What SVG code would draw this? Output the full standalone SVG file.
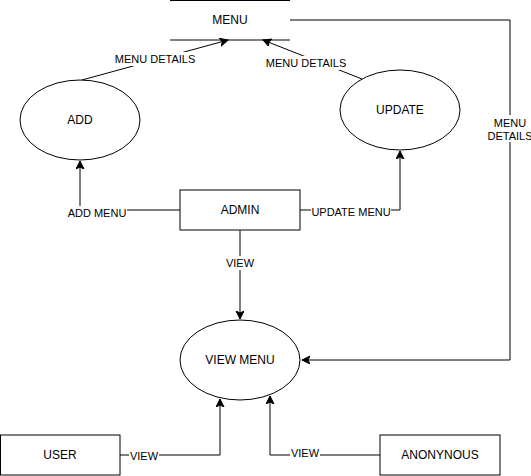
<svg xmlns="http://www.w3.org/2000/svg" width="531" height="476" viewBox="0 0 531 476">
<style>
.shape{fill:#fff;stroke:#000;stroke-width:1}
.edge{fill:none;stroke:#000;stroke-width:1}
.lbl{font-family:"Liberation Sans",Arial,sans-serif;font-size:12px;fill:#000;text-anchor:middle}
.elbl{font-family:"Liberation Sans",Arial,sans-serif;font-size:11px;fill:#000;text-anchor:middle}
.bg{fill:#fff;stroke:none}
</style>
<defs>
<marker id="arr" markerWidth="10" markerHeight="10" refX="8" refY="4" orient="auto" markerUnits="userSpaceOnUse">
<path d="M0,0 L8,4 L0,8 L2,4 Z" fill="#000" stroke="#000" stroke-width="1"/>
</marker>
</defs>
<rect width="531" height="476" fill="#fff"/>
<g id="connectors">
<path class="edge" d="M82,80 L228,40" marker-end="url(#arr)"/>
<path class="edge" d="M362,79 L263,40" marker-end="url(#arr)"/>
<path class="edge" d="M290,20 L510,20 L510,360 L302,360" marker-end="url(#arr)"/>
<path class="edge" d="M180,210 L80,210 L80,161" marker-end="url(#arr)"/>
<path class="edge" d="M300,210 L400,210 L400,151" marker-end="url(#arr)"/>
<path class="edge" d="M240,230 L240,319" marker-end="url(#arr)"/>
<path class="edge" d="M120,455 L220,455 L220,399" marker-end="url(#arr)"/>
<path class="edge" d="M380,455 L270,455 L270,396" marker-end="url(#arr)"/>
<rect class="bg" x="113" y="52" width="84" height="14"/>
<text class="elbl" x="155" y="63">MENU DETAILS</text>
<rect class="bg" x="264" y="56" width="84" height="14"/>
<text class="elbl" x="306" y="67">MENU DETAILS</text>
<rect class="bg" x="489" y="115" width="42" height="27"/>
<text class="elbl" x="510" y="127">MENU</text>
<text class="elbl" x="510" y="140">DETAILS</text>
<rect class="bg" x="67" y="206" width="60" height="14"/>
<text class="elbl" x="97" y="217">ADD MENU</text>
<rect class="bg" x="311" y="205" width="80" height="14"/>
<text class="elbl" x="351" y="216">UPDATE MENU</text>
<rect class="bg" x="226" y="256" width="28" height="14"/>
<text class="elbl" x="240" y="267">VIEW</text>
<rect class="bg" x="129" y="449" width="30" height="14"/>
<text class="elbl" x="144" y="460">VIEW</text>
<rect class="bg" x="290" y="446" width="30" height="14"/>
<text class="elbl" x="305" y="457">VIEW</text>
</g>
<g id="menu">
<line class="edge" x1="170" y1="0.5" x2="290" y2="0.5"/>
<line class="edge" x1="170" y1="40" x2="290" y2="40"/>
<text class="lbl" x="230" y="24">MENU</text>
</g>
<g id="add">
<ellipse class="shape" cx="80" cy="120" rx="60" ry="40"/>
<text class="lbl" x="80" y="124">ADD</text>
</g>
<g id="update">
<ellipse class="shape" cx="400" cy="110" rx="60" ry="40"/>
<text class="lbl" x="400" y="114">UPDATE</text>
</g>
<g id="admin">
<rect class="shape" x="180" y="190" width="120" height="40"/>
<text class="lbl" x="240" y="214">ADMIN</text>
</g>
<g id="view-menu">
<ellipse class="shape" cx="240" cy="360" rx="60" ry="40"/>
<text class="lbl" x="240" y="364">VIEW MENU</text>
</g>
<g id="user">
<rect class="shape" x="0.5" y="435" width="119.5" height="40"/>
<text class="lbl" x="60" y="459">USER</text>
</g>
<g id="anonynous">
<rect class="shape" x="380" y="435" width="120" height="40"/>
<text class="lbl" x="440" y="459">ANONYNOUS</text>
</g>
</svg>
